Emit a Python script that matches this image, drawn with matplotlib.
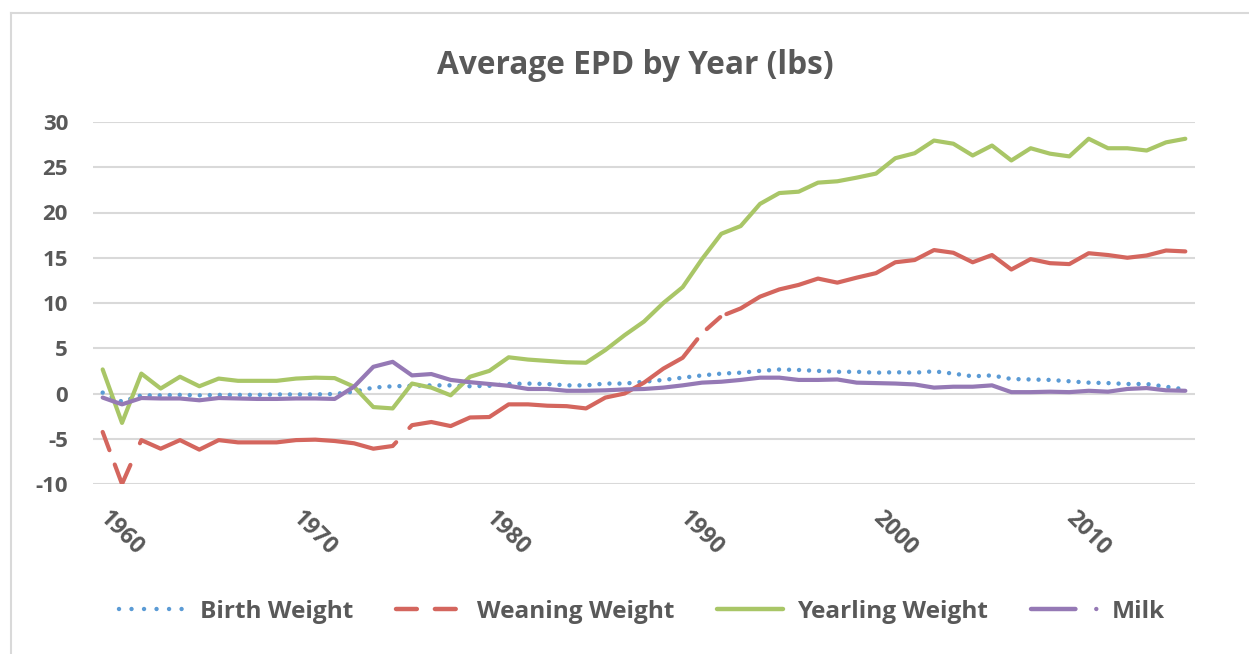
import matplotlib
matplotlib.use("Agg")
import matplotlib.pyplot as plt
from matplotlib.lines import Line2D
import numpy as np

# categories
years = list(range(1960, 2017))
decades = [1960, 1970, 1980, 1990, 2000, 2010]

# Average EPD values (lbs)
birth = [0.1, -0.9, -0.2, -0.2, -0.15, -0.2, -0.15, -0.15, -0.15, -0.1,
         -0.1, -0.1, -0.05, 0.2, 0.65, 0.8, 0.85, 0.9, 0.9, 0.8,
         0.85, 1.05, 1.1, 1.05, 0.9, 0.9, 1.1, 1.1, 1.3, 1.5,
         1.75, 2.0, 2.2, 2.3, 2.5, 2.65, 2.6, 2.5, 2.4, 2.4,
         2.3, 2.35, 2.3, 2.45, 2.2, 1.9, 2.0, 1.6, 1.55, 1.5,
         1.35, 1.2, 1.15, 1.05, 1.05, 0.75, 0.45]
weaning = [-4.25, -10.0, -5.15, -6.1, -5.15, -6.2, -5.15, -5.4, -5.4, -5.4,
           -5.15, -5.1, -5.25, -5.5, -6.1, -5.8, -3.5, -3.15, -3.6, -2.65,
           -2.6, -1.2, -1.2, -1.35, -1.4, -1.65, -0.45, 0.0, 1.2, 2.75,
           3.95, 6.65, 8.55, 9.4, 10.7, 11.5, 12.0, 12.7, 12.25, 12.8,
           13.3, 14.5, 14.75, 15.85, 15.55, 14.5, 15.3, 13.7, 14.85, 14.4,
           14.3, 15.5, 15.3, 15.0, 15.25, 15.8, 15.7]
yearling = [2.66, -3.25, 2.2, 0.55, 1.85, 0.8, 1.65, 1.4, 1.4, 1.4,
            1.65, 1.75, 1.7, 0.75, -1.5, -1.65, 1.1, 0.65, -0.2, 1.85,
            2.5, 4.0, 3.75, 3.6, 3.45, 3.4, 4.8, 6.45, 7.95, 10.0,
            11.75, 14.85, 17.65, 18.5, 20.95, 22.15, 22.3, 23.3, 23.45, 23.85,
            24.3, 26.0, 26.55, 27.95, 27.6, 26.3, 27.4, 25.75, 27.1, 26.5,
            26.2, 28.15, 27.1, 27.1, 26.85, 27.75, 28.15]
milk = [-0.45, -1.2, -0.5, -0.55, -0.55, -0.75, -0.5, -0.55, -0.6, -0.6,
        -0.55, -0.55, -0.6, 0.75, 2.95, 3.5, 2.0, 2.15, 1.5, 1.25,
        1.05, 0.85, 0.5, 0.5, 0.3, 0.3, 0.35, 0.45, 0.5, 0.65,
        0.9, 1.2, 1.3, 1.5, 1.75, 1.75, 1.5, 1.5, 1.55, 1.2,
        1.15, 1.1, 1.0, 0.65, 0.75, 0.75, 0.9, 0.15, 0.15, 0.2,
        0.15, 0.3, 0.2, 0.5, 0.6, 0.35, 0.3]

c_birth = "#5B9BD5"
c_wean = "#D4665E"
c_year = "#A9C667"
c_milk = "#9579B5"
grey = "#595959"
grid = "#D9D9D9"

plt.rcParams['font.family'] = ['Open Sans', 'DejaVu Sans']
plt.rcParams['font.weight'] = 'bold'
plt.rcParams['axes.unicode_minus'] = False
plt.rcParams['lines.scale_dashes'] = False

fig = plt.figure(figsize=(12.49, 6.54), dpi=100)
ax = fig.add_axes([93/1249, 1-484/654, (1195-93)/1249, (484-122)/654])

x = np.arange(len(years))
ax.plot(x, birth, color=c_birth, lw=3.2, dash_capstyle='round',
        linestyle=(0, (0.01, 7.2)), zorder=3)
ax.plot(x, weaning, color=c_wean, lw=3.0, solid_capstyle='round',
        dash_capstyle='round',
        linestyle=(0, (14, 11, 30, 17, 194, 14, 229, 10, 13, 5, 2000)), zorder=4)
ax.plot(x, yearling, color=c_year, lw=3.0, solid_capstyle='round', zorder=5)
ax.plot(x, milk, color=c_milk, lw=3.0, solid_capstyle='round', zorder=6)

ax.set_xlim(-0.5, len(years) - 0.5)
ax.set_ylim(-10, 30)
ax.set_yticks(range(-10, 31, 5))
ax.yaxis.grid(True, color=grid, lw=1.5)
ax.set_axisbelow(True)
for s in ax.spines.values():
    s.set_visible(False)
ax.tick_params(length=0, colors=grey, labelsize=16)
ax.tick_params(axis='y', pad=18)
ax.tick_params(axis='x', pad=22)

ax.set_xticks([years.index(d) for d in decades])
ax.set_xticklabels([str(d) for d in decades], rotation=-45, ha='left',
                   va='center', rotation_mode='anchor', fontsize=16.5, color=grey)

fig.text(0.509, 1-66/654, "Average EPD by Year (lbs)", ha='center', va='center',
         fontsize=22.8, fontweight='bold', color=grey)

# legend with its own handle styles
handles = [
    Line2D([], [], color=c_birth, lw=3.2, dash_capstyle='round', linestyle=(0, (0.01, 9))),
    Line2D([], [], color=c_wean, lw=3.2, dash_capstyle='round', linestyle=(0, (15, 13))),
    Line2D([], [], color=c_year, lw=3.2, solid_capstyle='round'),
    Line2D([], [], color=c_milk, lw=3.2, dash_capstyle='round', linestyle=(0, (32, 15, 0.01, 15))),
]
labels = ["Birth Weight", "Weaning Weight", "Yearling Weight", "Milk"]
leg = fig.legend(handles, labels, loc='center', bbox_to_anchor=(0.514, 1-612/654),
                 ncol=4, frameon=False, handlelength=2.7, handletextpad=0.6,
                 columnspacing=1.75, prop={'size': 17.6, 'weight': 'bold'})
for t in leg.get_texts():
    t.set_color(grey)

# chart area border (left and top edges visible)
fig.add_artist(Line2D([11/1249, 11/1249], [0, 1-13/654], color=grid, lw=1.5))
fig.add_artist(Line2D([11/1249, 1], [1-13/654, 1-13/654], color=grid, lw=1.5))

fig.savefig("out.png", dpi=100)
